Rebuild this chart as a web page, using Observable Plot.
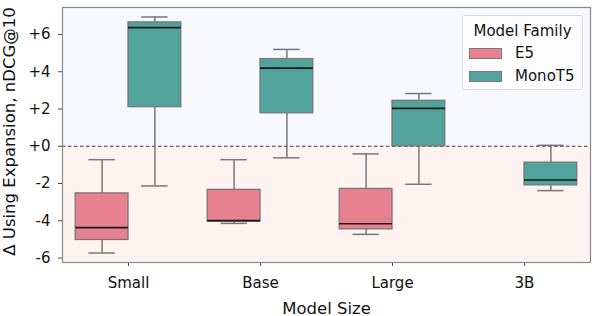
<!DOCTYPE html>
<html><head><meta charset="utf-8">
<script src="https://cdn.jsdelivr.net/npm/d3@7"></script>
<script src="https://cdn.jsdelivr.net/npm/@observablehq/plot@0.6"></script>
<style>
body{margin:0;background:#fff;font-family:"DejaVu Sans",sans-serif;}
#wrap{position:relative;width:598px;height:316px;overflow:hidden}
#legend{position:absolute;left:462px;top:15px;width:119px;height:73px;border:1px solid #dcdcdc;border-radius:3px;background:rgba(255,255,255,0.85);font-size:15px;color:#111}
#legend .title{position:absolute;left:0;width:100%;top:6px;text-align:center}
#legend .row{position:absolute;left:6px;height:18px;display:flex;align-items:center}
#legend .sw{width:31px;height:9px;border:1px solid #777;margin-right:13px}
</style>
</head><body><div id="wrap"></div>
<script>
const sizes = ["Small","Base","Large","3B"];
const families = ["E5","MonoT5"];
const boxSize = ["Small","Small","Base","Base","Large","Large","3B"];
const boxFamily = ["E5","MonoT5","E5","MonoT5","E5","MonoT5","MonoT5"];
const whiskerLow = [-5.73,-2.13,-4.14,-0.62,-4.73,-2.04,-2.38];
const q1 = [-5.03,2.10,-4.05,1.77,-4.46,0.0,-2.10];
const median = [-4.37,6.37,-3.99,4.19,-4.16,2.03,-1.81];
const q3 = [-2.53,6.65,-2.34,4.68,-2.29,2.44,-0.88];
const whiskerHigh = [-0.72,6.94,-0.72,5.20,-0.41,2.83,0.05];
const yTicks = [-6,-4,-2,0,2,4,6];
const yDomain = [-6.24,7.45];
const colors = ["#e8818f","#52a39b"];
const xLabel = "Model Size";
const yLabel = "Δ Using Expansion, nDCG@10";
const legendTitle = "Model Family";

const data = boxSize.map((s,i)=>({size:s,family:boxFamily[i],lo:whiskerLow[i],q1:q1[i],med:median[i],q3:q3[i],hi:whiskerHigh[i]}));
const W=598,H=316,ml=62,mr=8,mt=7,mb=54;
const bw=(W-ml-mr)/sizes.length;
const boxW=0.8*bw/2;
function famMarks(fam,idx){
  const d=data.filter(r=>r.family===fam);
  const left = idx===0 ? 0.1*bw : 0.5*bw;
  const right = bw-left-boxW;
  const center = left+boxW/2;
  const dx = center-bw/2;
  const capL = center-boxW/4, capR = bw-center-boxW/4;
  return [
    Plot.ruleX(d,{x:"size",y1:"lo",y2:"q1",dx,stroke:"#777",strokeWidth:1.5}),
    Plot.ruleX(d,{x:"size",y1:"q3",y2:"hi",dx,stroke:"#777",strokeWidth:1.5}),
    Plot.tickY(d,{x:"size",y:"lo",insetLeft:capL,insetRight:capR,stroke:"#777",strokeWidth:1.5}),
    Plot.tickY(d,{x:"size",y:"hi",insetLeft:capL,insetRight:capR,stroke:"#777",strokeWidth:1.5}),
    Plot.barY(d,{x:"size",y1:"q1",y2:"q3",insetLeft:left,insetRight:right,fill:colors[idx],stroke:"#777",strokeWidth:1.3}),
    Plot.tickY(d,{x:"size",y:"med",insetLeft:left,insetRight:right,stroke:"#1a1a1a",strokeWidth:1.7})
  ];
}
const chart = Plot.plot({
  width:W,height:H,marginLeft:ml,marginRight:mr,marginTop:mt,marginBottom:mb,
  style:{fontFamily:"DejaVu Sans",fontSize:"15px",color:"#111",background:"transparent",overflow:"visible"},
  x:{type:"band",domain:sizes,padding:0},
  y:{domain:yDomain},
  marks:[
    Plot.rectY([{a:0,b:yDomain[1]}],{y1:"a",y2:"b",fill:"#f8f9ff"}),
    Plot.rectY([{a:yDomain[0],b:0}],{y1:"a",y2:"b",fill:"#fff3f2"}),
    Plot.ruleY([0],{stroke:"#3a3a3a",strokeWidth:1.2,strokeDasharray:"3.5,2.5"}),
    ...famMarks("E5",0),
    ...famMarks("MonoT5",1),
    Plot.axisY({ticks:yTicks,tickSize:4,tickPadding:8,tickFormat:d=>(d>=0?"+":"")+d,label:null,fontSize:15,stroke:"#444"}),
    Plot.axisX({tickSize:4,tickPadding:11,label:null,fontSize:15,stroke:"#444"}),
    Plot.text([xLabel],{frameAnchor:"bottom",dy:51,fontSize:16.5,fill:"#111"}),
    Plot.text([yLabel],{frameAnchor:"left",textAnchor:"middle",dx:-52.5,dy:-3.5,rotate:-90,fontSize:16.5,fill:"#111"}),
    Plot.frame({stroke:"#888",strokeWidth:1.2})
  ]
});
const wrap=document.getElementById("wrap");
wrap.appendChild(chart);
const lg=document.createElement("div");
lg.id="legend";
lg.innerHTML=`<div class="title">${legendTitle}</div>`+families.map((f,i)=>`<div class="row" style="top:${28+i*23}px"><div class="sw" style="background:${colors[i]}"></div>${f}</div>`).join("");
wrap.appendChild(lg);
</script>
</body></html>
